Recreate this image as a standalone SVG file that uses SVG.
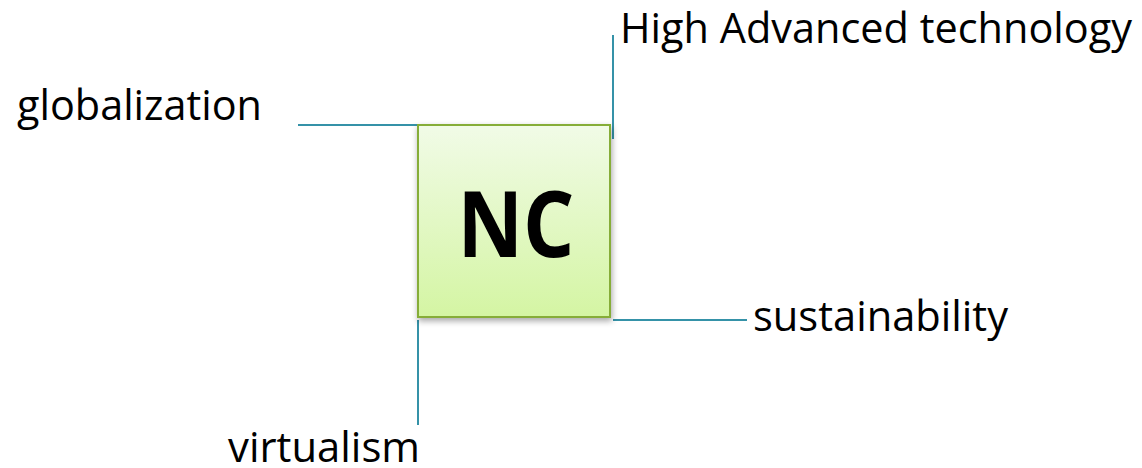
<svg xmlns="http://www.w3.org/2000/svg" width="1142" height="468" viewBox="0 0 1142 468">
<style>
.lbl{font-family:"Open Sans","Liberation Sans",sans-serif;font-size:42px;fill:#000}
.conn{stroke:#3592a8;stroke-width:2;fill:none}
</style>
<defs>
<linearGradient id="g" x1="0" y1="0" x2="0" y2="1">
<stop offset="0" stop-color="#f1fbe7"/>
<stop offset="1" stop-color="#d4f5a3"/>
</linearGradient>
<filter id="sh" x="-20%" y="-20%" width="140%" height="140%">
<feDropShadow dx="1" dy="3" stdDeviation="3" flood-color="#000" flood-opacity="0.35"/>
</filter>
</defs>
<rect width="1142" height="468" fill="#fff"/>
<g id="connectors">
<line class="conn" x1="298" y1="125" x2="418" y2="125"/>
<line class="conn" x1="613" y1="35" x2="613" y2="139"/>
<line class="conn" x1="613" y1="320" x2="747" y2="320"/>
<line class="conn" x1="418" y1="320" x2="418" y2="425"/>
</g>
<g id="nc">
<rect x="418" y="125" width="192" height="192" fill="url(#g)" stroke="#86ad37" stroke-width="2" filter="url(#sh)"/>
<text x="516" y="257" text-anchor="middle" font-family="'Open Sans','Liberation Sans',sans-serif" font-weight="bold" font-size="92" textLength="117" lengthAdjust="spacingAndGlyphs">NC</text>
</g>
<g id="globalization"><text class="lbl" x="17" y="120" textLength="245" lengthAdjust="spacingAndGlyphs">globalization</text></g>
<g id="tech"><text class="lbl" x="620" y="43" textLength="512" lengthAdjust="spacingAndGlyphs">High Advanced technology</text></g>
<g id="sustainability"><text class="lbl" x="753" y="331" textLength="255" lengthAdjust="spacingAndGlyphs">sustainability</text></g>
<g id="virtualism"><text class="lbl" x="228" y="462" textLength="192" lengthAdjust="spacingAndGlyphs">virtualism</text></g>
</svg>
